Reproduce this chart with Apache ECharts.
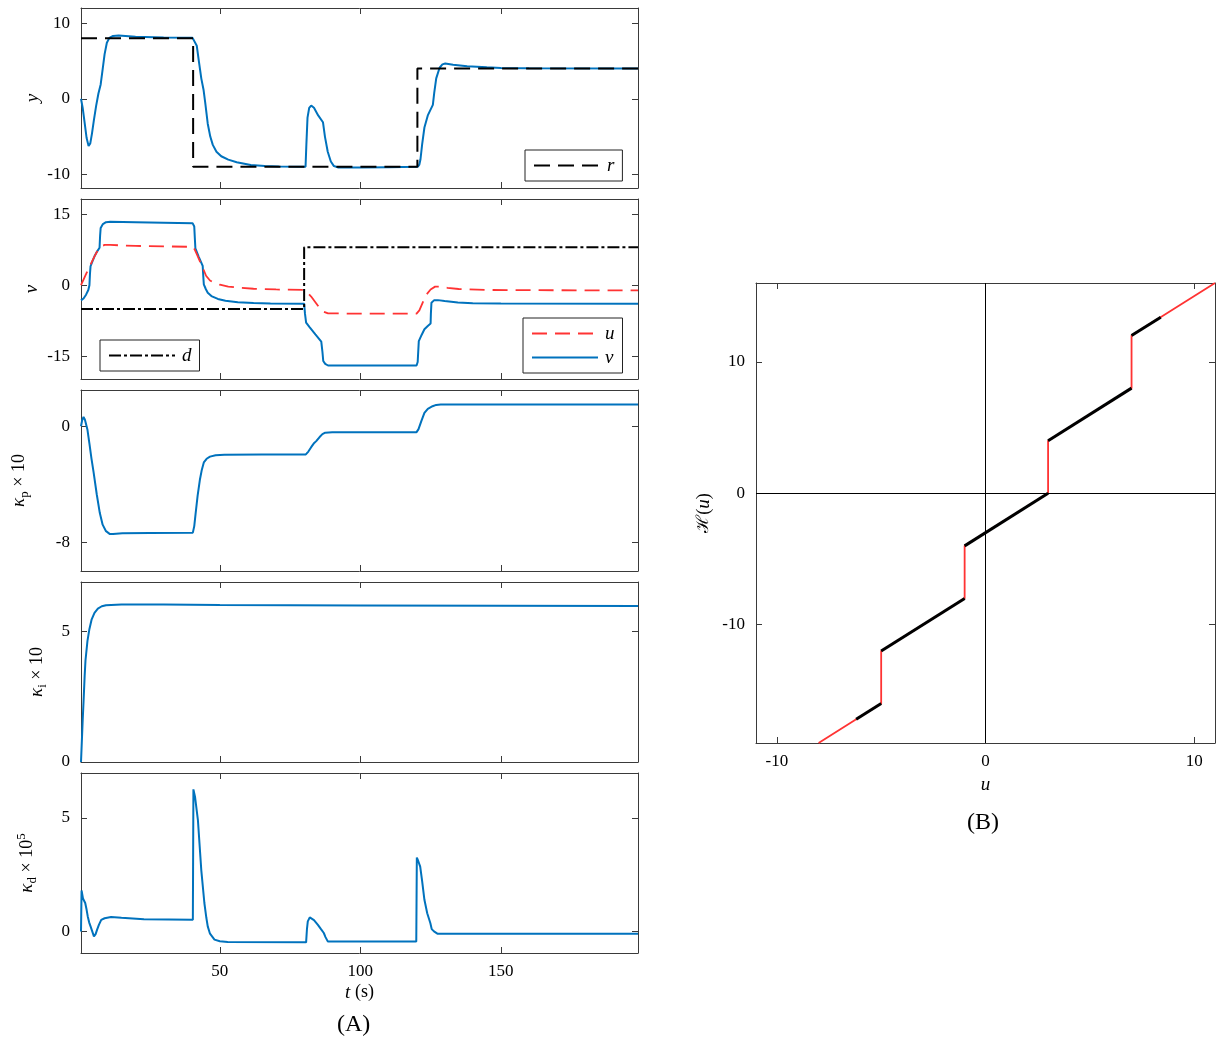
<!DOCTYPE html>
<html><head><meta charset="utf-8">
<script src="https://cdn.jsdelivr.net/npm/echarts@6/dist/echarts.min.js"></script>
<style>html,body{margin:0;padding:0;background:#fff}#c{width:1216px;height:1042px}</style>
</head><body><div id="c"></div>
<script>
// ---------------- data ----------------
const tTicks = [50, 100, 150];
const yTicks = [-10, 0, 10];
const vTicks = [-15, 0, 15];
const kpTicks = [-8, 0];
const kiTicks = [0, 5];
const kdTicks = [0, 5];
const uTicks = [-10, 0, 10];
const hTicks = [-10, 0, 10];

// reference r(t)
const rData = [[0.6,8],[40.5,8],[40.5,-9],[120.3,-9],[120.3,4],[198.8,4]];
// output y(t)
const yData = [[0.6,0],[1.2,-1.2],[1.9,-3.2],[2.6,-5.2],[3.3,-6.25],[3.9,-5.9],[4.5,-4.6],[5.2,-2.8],[6.0,-0.9],[6.8,0.7],[7.6,1.9],[8.3,3.9],[9.0,5.9],[9.8,7.4],[10.7,8.05],[12,8.3],[14,8.35],[20,8.2],[30,8.1],[40.3,8.05],[41.0,7.9],[41.8,7.0],[42.6,4.8],[43.4,2.7],[44.2,1.2],[44.8,-0.5],[45.7,-3.3],[46.6,-5.0],[47.5,-6.1],[48.8,-7.0],[50.5,-7.6],[53,-8.05],[56,-8.4],[61,-8.75],[66,-8.9],[71,-8.97],[80.5,-9.0],[80.8,-6],[81.2,-2.5],[81.8,-1.2],[82.5,-0.9],[83.5,-1.2],[85,-2.2],[86.7,-3.1],[87.4,-5],[88.4,-7.0],[89.5,-8.3],[90.6,-8.9],[92,-9.08],[100,-9.1],[110,-9.05],[120.4,-9.0],[121.0,-8.7],[121.4,-8.0],[122.0,-6],[122.8,-3.8],[124,-2.2],[125.8,-0.8],[126.3,0.8],[127,2.7],[128.2,4.1],[129.2,4.55],[130.2,4.65],[133,4.5],[138,4.3],[145,4.15],[150,4.08],[160,4.03],[198.8,4.0]];
// disturbance d(t)
const dData = [[0.6,-5],[80,-5],[80,8],[198.8,8]];
// control u(t)
const uData = [[0.6,0],[1.5,1.2],[2.5,2.5],[3.6,3.8],[4.5,5.0],[5.4,6.1],[6.5,7.3],[7.8,8.2],[9,8.5],[11,8.5],[20,8.3],[30,8.2],[40.4,8.1],[41,7.6],[42,6.3],[43,4.9],[44,3.6],[45.1,2.0],[46.5,1.0],[48,0.5],[50,0.1],[53,-0.3],[57,-0.55],[62,-0.75],[70,-0.9],[80,-1.0],[81,-1.5],[82.5,-2.4],[84,-3.6],[85.5,-4.8],[87,-5.6],[88.5,-5.95],[100,-6.0],[120,-6.0],[121,-5.3],[122.3,-3.5],[123.5,-2.0],[125,-0.9],[126.6,-0.3],[128,-0.3],[131,-0.55],[135,-0.8],[145,-1.0],[160,-1.05],[198.8,-1.1]];
// actuator output v(t)
const vData = [[0.6,-3.2],[1.5,-2.8],[2.4,-2.0],[3.2,-1.0],[3.6,0],[3.8,2.5],[4.0,4.0],[4.7,5.1],[5.4,6.1],[6.3,7.1],[7.2,7.9],[7.4,10.5],[7.6,12.1],[8.4,12.9],[9.5,13.3],[11,13.4],[20,13.3],[30,13.2],[40.3,13.1],[40.9,12.4],[41.1,10],[41.3,7.8],[42.5,6.0],[43.9,4.1],[44.1,2],[44.3,0.2],[45,-0.8],[45.7,-1.6],[47,-2.3],[49.3,-2.9],[52,-3.3],[56.4,-3.6],[62,-3.75],[68,-3.85],[80,-3.9],[80.3,-6],[80.7,-7.9],[82,-8.9],[84,-10.4],[86.1,-11.9],[86.5,-14],[86.8,-16],[87.5,-16.6],[88.5,-16.95],[100,-16.95],[120,-16.95],[120.4,-16.2],[120.6,-14],[120.8,-11.8],[121.8,-10.5],[122.8,-9.3],[124,-8.6],[125,-8.1],[125.1,-6],[125.3,-3.7],[126.2,-3.2],[127.6,-3.15],[130,-3.35],[134.7,-3.65],[140,-3.8],[150,-3.88],[198.8,-3.9]];
// gains
const kpData = [[0.6,0],[1.0,0.4],[1.5,0.64],[2.0,0.45],[2.9,-0.25],[3.6,-1.2],[4.3,-2.2],[5.1,-3.2],[6.2,-4.7],[7.3,-6.0],[8.3,-6.8],[9.5,-7.25],[10.9,-7.45],[12,-7.45],[15.3,-7.4],[25,-7.37],[40.4,-7.35],[40.9,-6.9],[41.4,-6.0],[42.1,-4.8],[42.9,-3.7],[43.6,-3.0],[44.3,-2.5],[45.3,-2.25],[46.5,-2.1],[48.5,-2.0],[51.6,-1.97],[65,-1.95],[80.6,-1.95],[81.5,-1.75],[82.5,-1.45],[83.4,-1.2],[84.3,-1.03],[85.5,-0.75],[86.5,-0.55],[87.5,-0.45],[90,-0.42],[120,-0.41],[120.7,-0.2],[121.7,0.35],[122.8,0.92],[124,1.2],[125.7,1.38],[127,1.47],[128.6,1.5],[198.8,1.5]];
const kiData = [[0.6,0],[0.9,0.8],[1.2,1.6],[1.5,2.3],[1.9,3.3],[2.2,3.9],[2.9,4.64],[3.6,5.1],[4.4,5.47],[5.4,5.72],[6.6,5.88],[8,5.97],[9.5,6.01],[15,6.04],[30,6.04],[50,6.02],[100,6.0],[150,5.99],[198.8,5.98]];
const kdData = [[0.6,0],[0.8,1.8],[1.0,1.75],[1.3,1.45],[1.6,1.42],[2.1,1.25],[2.6,0.95],[3.0,0.66],[3.5,0.4],[4.0,0.22],[4.6,0.0],[5.2,-0.22],[5.8,-0.12],[6.3,0.07],[7.0,0.3],[7.8,0.51],[8.2,0.5],[9,0.58],[11.3,0.63],[15,0.6],[23,0.54],[40.4,0.51],[40.6,6.25],[41.2,5.9],[42.2,4.9],[43.4,2.7],[44.5,1.25],[45.2,0.6],[45.7,0.22],[46.5,-0.1],[48.1,-0.36],[50,-0.43],[52.8,-0.47],[80.7,-0.48],[81.0,0.1],[81.3,0.44],[82.0,0.62],[82.5,0.66],[83.5,0.5],[84.9,0.29],[86,0.1],[87,-0.07],[87.6,-0.25],[88.4,-0.44],[100,-0.44],[119.9,-0.44],[120.1,3.25],[120.6,3.1],[121.3,2.85],[122,2.2],[122.8,1.39],[123.8,0.8],[124.9,0.37],[125.4,0.1],[126.2,0.0],[127.4,-0.1],[198.8,-0.1]];
// hysteresis map H(u)
const hFull = [[-8,-19],[-5,-16],[-5,-12],[-1,-8],[-1,-4],[3,0],[3,4],[7,8],[7,12],[11,16]];
const hVisited = [
  [[-6.2,-17.2],[-5,-16]],
  [[-5,-12],[-1,-8]],
  [[-1,-4],[3,0]],
  [[3,4],[7,8]],
  [[7,12],[8.4,13.4]]
];

// ---------------- styling ----------------
const FONT = 'Liberation Serif';
const AX = '#3a3a3a';
const BLUE = '#0072BD';
const RED = '#ff3333';

const grids = [
  {left:81, top:8,   width:557, height:180},
  {left:81, top:199, width:557, height:180},
  {left:81, top:390, width:557, height:181},
  {left:81, top:582, width:557, height:180},
  {left:81, top:773, width:557, height:180},
  {left:756, top:283, width:459, height:460}
];

const xAxes = [], yAxes = [];
function addX(gi, min, max, ticks, showLabels, name, nameGap) {
  const base = {
    type:'value', gridIndex:gi, min:min, max:max,
    splitLine:{show:false},
    axisLine:{show:true, onZero:false, lineStyle:{color:AX, width:1}},
    axisTick:{show:true, inside:true, length:6, customValues:ticks, lineStyle:{color:AX}},
  };
  xAxes.push(Object.assign({}, base, {
    position:'bottom',
    axisLabel:{show:showLabels, customValues:ticks, color:'#000', fontFamily:FONT, fontSize:17, margin:10},
    name: name || '', nameLocation:'middle', nameGap: nameGap || 30,
    nameTextStyle:{color:'#000', fontFamily:FONT, fontSize:18, rich:{
      i:{fontFamily:FONT, fontSize:19, fontStyle:'italic', color:'#000'},
      n:{fontFamily:FONT, fontSize:18, color:'#000'}
    }}
  }));
  const idx = xAxes.length - 1;
  xAxes.push(Object.assign({}, base, {position:'top', axisLabel:{show:false}}));
  return idx;
}
function addY(gi, min, max, ticks, name, nameGap) {
  const base = {
    type:'value', gridIndex:gi, min:min, max:max,
    splitLine:{show:false},
    axisLine:{show:true, onZero:false, lineStyle:{color:AX, width:1}},
    axisTick:{show:true, inside:true, length:6, customValues:ticks, lineStyle:{color:AX}},
  };
  yAxes.push(Object.assign({}, base, {
    position:'left',
    axisLabel:{customValues:ticks, color:'#000', fontFamily:FONT, fontSize:17, margin:11},
    name:name, nameLocation:'middle', nameGap:nameGap, nameRotate:90,
    nameTextStyle:{color:'#000', fontFamily:FONT, fontSize:18, rich:{
      i:{fontFamily:FONT, fontSize:19, fontStyle:'italic', color:'#000', lineHeight:24, verticalAlign:'middle'},
      n:{fontFamily:FONT, fontSize:18, color:'#000', lineHeight:24, verticalAlign:'middle'},
      h:{fontFamily:'DejaVu Serif', fontSize:17, color:'#000', lineHeight:24, verticalAlign:'middle'},
      s:{fontFamily:FONT, fontSize:13, color:'#000', lineHeight:12, verticalAlign:'bottom'},
      sup:{fontFamily:FONT, fontSize:13, color:'#000', lineHeight:12, verticalAlign:'top'}
    }}
  }));
  const idx = yAxes.length - 1;
  yAxes.push(Object.assign({}, base, {position:'right', axisLabel:{show:false}}));
  return idx;
}

const TMIN = 0.6, TMAX = 198.8;
const gx = [], gy = [];
gx[0] = addX(0, TMIN, TMAX, tTicks, false); gy[0] = addY(0, -11.8, 12, yTicks, '{i|y}', 36);
gx[1] = addX(1, TMIN, TMAX, tTicks, false); gy[1] = addY(1, -19.8, 18.2, vTicks, '{i|v}', 37);
gx[2] = addX(2, TMIN, TMAX, tTicks, false); gy[2] = addY(2, -10, 2.5, kpTicks, '{i|κ}{s|p}{n| × 10}', 50);
gx[3] = addX(3, TMIN, TMAX, tTicks, false); gy[3] = addY(3, 0, 6.9, kiTicks, '{i|κ}{s|i}{n| × 10}', 32);
gx[4] = addX(4, TMIN, TMAX, tTicks, true, '{i|t} {n|(s)}', 30); gy[4] = addY(4, -0.95, 6.97, kdTicks, '{i|κ}{s|d}{n| × 10}{sup|5}', 42);
gx[5] = addX(5, -11, 11, uTicks, true, '{i|u}', 32); gy[5] = addY(5, -19, 16, hTicks, '{h|ℋ}{n|(}{i|u}{n|)}', 40);

function line(name, gi, data, color, width, type, z) {
  return {
    name:name, type:'line', xAxisIndex:gx[gi], yAxisIndex:gy[gi], data:data,
    symbol:'none', showSymbol:false, smooth:false, silent:true, z: z || 2,
    lineStyle:{color:color, width:width, type:type || 'solid'},
    itemStyle:{color:color}
  };
}

const series = [
  line('y', 0, yData, BLUE, 2),
  line('r', 0, rData, '#000', 2, [16, 8], 3),
  line('v', 1, vData, BLUE, 2),
  line('u', 1, uData, RED, 1.8, [15, 8], 3),
  line('d', 1, dData, '#000', 2, [12, 3, 3, 3], 3),
  line('kp', 2, kpData, BLUE, 2),
  line('ki', 3, kiData, BLUE, 2),
  line('kd', 4, kdData, BLUE, 2),
];
const hRed = line('Hfull', 5, hFull, RED, 1.8);
hRed.markLine = {
  silent:true, symbol:['none','none'], label:{show:false}, animation:false,
  lineStyle:{color:'#000', width:1, type:'solid'},
  data:[{xAxis:0},{yAxis:0}]
};
series.push(hRed);
hVisited.forEach((seg, i) => series.push(line('Hv' + i, 5, seg, '#000', 3, 'solid', 4)));

const legendBase = {
  selectedMode:false, borderColor:'#222', borderWidth:1, backgroundColor:'#fff',
  padding:[6,8], itemWidth:66, itemHeight:14, itemGap:5,
  itemStyle:{opacity:0},
  textStyle:{fontFamily:FONT, fontSize:19, fontStyle:'italic', color:'#000', padding:[0,0,0,2]}
};

const option = {
  animation:false,
  backgroundColor:'#fff',
  grid: grids,
  xAxis: xAxes,
  yAxis: yAxes,
  legend: [
    Object.assign({}, legendBase, {data:['r'], left:525, top:150}),
    Object.assign({}, legendBase, {data:['d'], left:100, top:340}),
    Object.assign({}, legendBase, {data:['u','v'], left:523, top:318, orient:'vertical'})
  ],
  series: series,
  graphic: [
    {type:'text', left:337, top:1013, style:{text:'(A)', fontFamily:FONT, fontSize:24, fill:'#000'}},
    {type:'text', left:967, top:811, style:{text:'(B)', fontFamily:FONT, fontSize:24, fill:'#000'}}
  ]
};

const chart = echarts.init(document.getElementById('c'), null, {renderer:'canvas'});
chart.setOption(option);
</script>
</body></html>
